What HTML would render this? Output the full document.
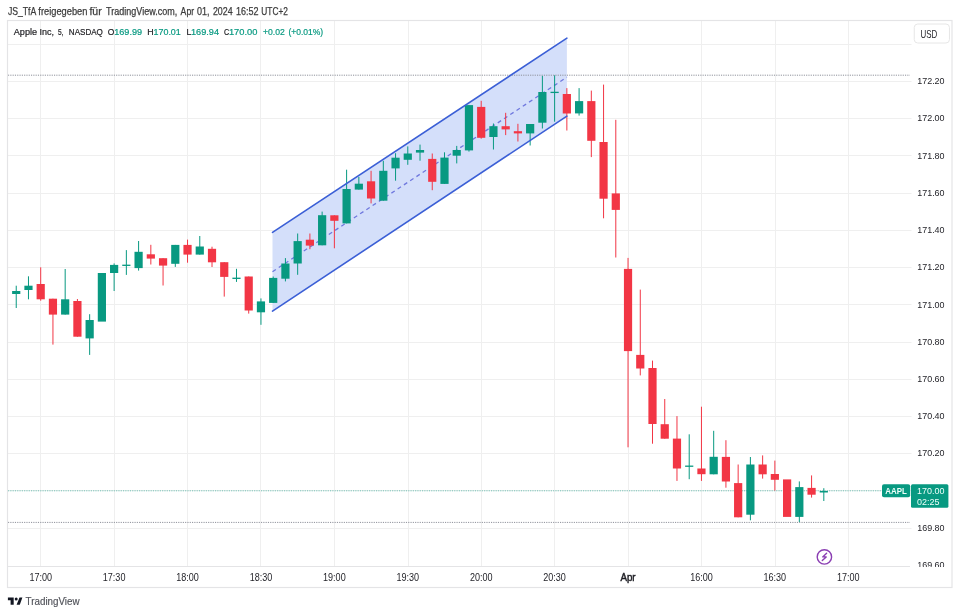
<!DOCTYPE html><html><head><meta charset="utf-8"><title>AAPL chart</title><style>
html,body{margin:0;padding:0;background:#fff;width:960px;height:615px;overflow:hidden}
svg{display:block;position:absolute;left:0;top:0;will-change:transform}
text{font-family:"Liberation Sans",sans-serif}
.ax{font-size:9.6px;fill:#1e1e24}
.b{font-weight:bold}
.lbl{font-size:9.2px;fill:#effffa}
.lg{font-size:9.1px;fill:#222226;stroke:#222226;stroke-width:0.2px}
.lg.gr{stroke:#089981}
.gr{fill:#089981}
.hd{font-size:10.2px;fill:#3c3c3c;stroke:#3c3c3c;stroke-width:0.25px}
.tv{font-size:10px;fill:#505259;stroke:#505259;stroke-width:0.15px}
</style></head><body><svg width="960" height="615" viewBox="0 0 960 615"><path d="M40.5 21V566M114.5 21V566M187.5 21V566M260.5 21V566M334.5 21V566M408.5 21V566M481.5 21V566M554.5 21V566M628.5 21V566M701.5 21V566M775.5 21V566M848.5 21V566M8 44.5H911.5M8 81.5H911.5M8 118.5H911.5M8 155.5H911.5M8 193.5H911.5M8 230.5H911.5M8 267.5H911.5M8 304.5H911.5M8 342.5H911.5M8 379.5H911.5M8 416.5H911.5M8 453.5H911.5M8 490.5H911.5M8 528.5H911.5" stroke="#efefef" stroke-width="1" fill="none"/>
<polygon points="272.5,232.3 566.9,38.2 566.9,116.1 272.5,311.1" fill="#d4dffa"/>
<path d="M272.5 271.70000000000005L566.9 77.15" stroke="#6f78de" stroke-width="1.3" stroke-dasharray="4 3.5" fill="none"/>
<path d="M8 75.2H910 M8 522.4H910" stroke="#8c8f99" stroke-width="1" stroke-dasharray="1.15 1.15" fill="none"/>
<path d="M8 490.8H882" stroke="#089981" stroke-width="1" stroke-dasharray="1.15 1.15" fill="none" opacity="0.55"/>
<rect x="15.73" y="285.7" width="1" height="22.3" fill="#089981"/><rect x="12.13" y="291" width="8.2" height="3" fill="#089981"/>
<rect x="27.97" y="276.3" width="1" height="23" fill="#089981"/><rect x="24.37" y="285.7" width="8.2" height="4.3" fill="#089981"/>
<rect x="40.2" y="267.3" width="1" height="33.4" fill="#f23645"/><rect x="36.6" y="284" width="8.2" height="15.3" fill="#f23645"/>
<rect x="52.44" y="298.7" width="1" height="45.9" fill="#f23645"/><rect x="48.84" y="298.7" width="8.2" height="15.9" fill="#f23645"/>
<rect x="64.67" y="269" width="1" height="45.6" fill="#089981"/><rect x="61.07" y="299.3" width="8.2" height="15.3" fill="#089981"/>
<rect x="76.91" y="299" width="1" height="37.7" fill="#f23645"/><rect x="73.31" y="301" width="8.2" height="35.7" fill="#f23645"/>
<rect x="89.15" y="314.2" width="1" height="40.7" fill="#089981"/><rect x="85.55" y="320" width="8.2" height="18.4" fill="#089981"/>
<rect x="97.78" y="273" width="8.2" height="48.6" fill="#089981"/>
<rect x="113.62" y="263.4" width="1" height="27.6" fill="#089981"/><rect x="110.02" y="264.9" width="8.2" height="8.1" fill="#089981"/>
<rect x="125.85" y="250.1" width="1" height="24.8" fill="#089981"/><rect x="122.25" y="264.65" width="8.2" height="1.3" fill="#089981"/>
<rect x="138.09" y="241" width="1" height="29.6" fill="#089981"/><rect x="134.49" y="251.8" width="8.2" height="16.3" fill="#089981"/>
<rect x="150.33" y="244.8" width="1" height="19.7" fill="#f23645"/><rect x="146.73" y="254.3" width="8.2" height="4.3" fill="#f23645"/>
<rect x="162.56" y="258.2" width="1" height="27.3" fill="#f23645"/><rect x="158.96" y="258.2" width="8.2" height="7.4" fill="#f23645"/>
<rect x="174.8" y="244.9" width="1" height="22" fill="#089981"/><rect x="171.2" y="244.9" width="8.2" height="18.9" fill="#089981"/>
<rect x="187.03" y="239.6" width="1" height="23.1" fill="#f23645"/><rect x="183.43" y="244.9" width="8.2" height="9.7" fill="#f23645"/>
<rect x="199.27" y="236" width="1" height="18.6" fill="#089981"/><rect x="195.67" y="246.5" width="8.2" height="8.1" fill="#089981"/>
<rect x="211.51" y="246.7" width="1" height="20.3" fill="#f23645"/><rect x="207.91" y="248.8" width="8.2" height="13.5" fill="#f23645"/>
<rect x="223.74" y="262.2" width="1" height="34.4" fill="#f23645"/><rect x="220.14" y="262.2" width="8.2" height="14.7" fill="#f23645"/>
<rect x="235.98" y="268.8" width="1" height="13.1" fill="#089981"/><rect x="232.38" y="277.65" width="8.2" height="1.3" fill="#089981"/>
<rect x="248.21" y="276.5" width="1" height="37.1" fill="#f23645"/><rect x="244.61" y="276.5" width="8.2" height="34" fill="#f23645"/>
<rect x="260.45" y="298.4" width="1" height="26.4" fill="#089981"/><rect x="256.85" y="301.4" width="8.2" height="10.9" fill="#089981"/>
<rect x="272.69" y="276.5" width="1" height="26.4" fill="#089981"/><rect x="269.09" y="277.9" width="8.2" height="25" fill="#089981"/>
<rect x="284.92" y="258.1" width="1" height="23.3" fill="#089981"/><rect x="281.32" y="263.5" width="8.2" height="15.2" fill="#089981"/>
<rect x="297.16" y="233.5" width="1" height="41.3" fill="#089981"/><rect x="293.56" y="241.1" width="8.2" height="22.4" fill="#089981"/>
<rect x="309.39" y="233.5" width="1" height="15.7" fill="#f23645"/><rect x="305.79" y="239.7" width="8.2" height="5.9" fill="#f23645"/>
<rect x="321.63" y="211.6" width="1" height="33.7" fill="#089981"/><rect x="318.03" y="215.2" width="8.2" height="30.1" fill="#089981"/>
<rect x="333.87" y="215.3" width="1" height="33" fill="#f23645"/><rect x="330.27" y="215.3" width="8.2" height="5.5" fill="#f23645"/>
<rect x="346.1" y="169.7" width="1" height="53.7" fill="#089981"/><rect x="342.5" y="189" width="8.2" height="34.4" fill="#089981"/>
<rect x="358.34" y="176.9" width="1" height="12.7" fill="#089981"/><rect x="354.74" y="183.7" width="8.2" height="5.9" fill="#089981"/>
<rect x="370.57" y="170.8" width="1" height="32.6" fill="#f23645"/><rect x="366.97" y="181.3" width="8.2" height="17.2" fill="#f23645"/>
<rect x="382.81" y="160.8" width="1" height="39.9" fill="#089981"/><rect x="379.21" y="170.8" width="8.2" height="29.9" fill="#089981"/>
<rect x="395.05" y="153.2" width="1" height="27.5" fill="#089981"/><rect x="391.45" y="157.7" width="8.2" height="10.7" fill="#089981"/>
<rect x="407.28" y="146.4" width="1" height="18.4" fill="#089981"/><rect x="403.68" y="153.5" width="8.2" height="6.3" fill="#089981"/>
<rect x="419.52" y="144.6" width="1" height="16.1" fill="#089981"/><rect x="415.92" y="150" width="8.2" height="2.6" fill="#089981"/>
<rect x="431.75" y="153.5" width="1" height="36.7" fill="#f23645"/><rect x="428.15" y="158.9" width="8.2" height="22.9" fill="#f23645"/>
<rect x="443.99" y="152.3" width="1" height="31.6" fill="#089981"/><rect x="440.39" y="157.6" width="8.2" height="26.3" fill="#089981"/>
<rect x="456.23" y="145.9" width="1" height="17.5" fill="#089981"/><rect x="452.63" y="150" width="8.2" height="5.7" fill="#089981"/>
<rect x="468.46" y="105.1" width="1" height="46.5" fill="#089981"/><rect x="464.86" y="105.1" width="8.2" height="45.3" fill="#089981"/>
<rect x="480.7" y="100.8" width="1" height="37.9" fill="#f23645"/><rect x="477.1" y="106.9" width="8.2" height="30.9" fill="#f23645"/>
<rect x="492.93" y="123.5" width="1" height="26" fill="#089981"/><rect x="489.33" y="126.2" width="8.2" height="10.8" fill="#089981"/>
<rect x="505.17" y="112.8" width="1" height="22.3" fill="#f23645"/><rect x="501.57" y="126.2" width="8.2" height="3.2" fill="#f23645"/>
<rect x="517.41" y="123.8" width="1" height="17.7" fill="#f23645"/><rect x="513.81" y="131.2" width="8.2" height="2.2" fill="#f23645"/>
<rect x="529.64" y="124" width="1" height="21.5" fill="#089981"/><rect x="526.04" y="124" width="8.2" height="9.4" fill="#089981"/>
<rect x="541.88" y="75.9" width="1" height="52.6" fill="#089981"/><rect x="538.28" y="92" width="8.2" height="30.7" fill="#089981"/>
<rect x="554.11" y="75.3" width="1" height="46.4" fill="#089981"/><rect x="550.51" y="91.75" width="8.2" height="1.3" fill="#089981"/>
<rect x="566.35" y="88.1" width="1" height="42.4" fill="#f23645"/><rect x="562.75" y="94" width="8.2" height="19.5" fill="#f23645"/>
<rect x="578.59" y="88.1" width="1" height="27.5" fill="#089981"/><rect x="574.99" y="101.1" width="8.2" height="12.3" fill="#089981"/>
<rect x="590.82" y="90.6" width="1" height="66.5" fill="#f23645"/><rect x="587.22" y="101.1" width="8.2" height="39.7" fill="#f23645"/>
<rect x="603.06" y="84.6" width="1" height="133.7" fill="#f23645"/><rect x="599.46" y="142" width="8.2" height="56.7" fill="#f23645"/>
<rect x="615.29" y="119.8" width="1" height="137.7" fill="#f23645"/><rect x="611.69" y="193.4" width="8.2" height="16.5" fill="#f23645"/>
<rect x="627.53" y="257.9" width="1" height="189.4" fill="#f23645"/><rect x="623.93" y="268.9" width="8.2" height="82.2" fill="#f23645"/>
<rect x="639.77" y="289.6" width="1" height="85.8" fill="#f23645"/><rect x="636.17" y="354.9" width="8.2" height="13.6" fill="#f23645"/>
<rect x="652" y="360.6" width="1" height="83.1" fill="#f23645"/><rect x="648.4" y="368" width="8.2" height="56" fill="#f23645"/>
<rect x="664.24" y="399" width="1" height="39.7" fill="#f23645"/><rect x="660.64" y="424.2" width="8.2" height="14.5" fill="#f23645"/>
<rect x="676.47" y="416.1" width="1" height="64.8" fill="#f23645"/><rect x="672.87" y="438.6" width="8.2" height="29.9" fill="#f23645"/>
<rect x="688.71" y="434.3" width="1" height="44.9" fill="#089981"/><rect x="685.11" y="465.55" width="8.2" height="1.3" fill="#089981"/>
<rect x="700.95" y="406.7" width="1" height="74.2" fill="#f23645"/><rect x="697.35" y="468.5" width="8.2" height="5.7" fill="#f23645"/>
<rect x="713.18" y="430.8" width="1" height="43.5" fill="#089981"/><rect x="709.58" y="456.8" width="8.2" height="17.5" fill="#089981"/>
<rect x="725.42" y="440.2" width="1" height="47.5" fill="#f23645"/><rect x="721.82" y="456.9" width="8.2" height="24.6" fill="#f23645"/>
<rect x="737.65" y="464.5" width="1" height="52.8" fill="#f23645"/><rect x="734.05" y="483.1" width="8.2" height="34.2" fill="#f23645"/>
<rect x="749.89" y="457" width="1" height="63.3" fill="#089981"/><rect x="746.29" y="464.5" width="8.2" height="50.2" fill="#089981"/>
<rect x="762.13" y="455.4" width="1" height="23.2" fill="#f23645"/><rect x="758.53" y="464.5" width="8.2" height="9.8" fill="#f23645"/>
<rect x="774.36" y="460.6" width="1" height="30" fill="#f23645"/><rect x="770.76" y="474" width="8.2" height="5.8" fill="#f23645"/>
<rect x="783" y="479.4" width="8.2" height="37.5" fill="#f23645"/>
<rect x="798.83" y="481.4" width="1" height="40.7" fill="#089981"/><rect x="795.23" y="487.1" width="8.2" height="29.8" fill="#089981"/>
<rect x="811.07" y="475.4" width="1" height="22.2" fill="#f23645"/><rect x="807.47" y="487.9" width="8.2" height="6.8" fill="#f23645"/>
<rect x="823.31" y="488.2" width="1" height="12.8" fill="#089981"/><rect x="819.71" y="491" width="8.2" height="1.5" fill="#089981"/>
<path d="M272.5 232.3L566.9 38.2 M272.5 311.1L566.9 116.1" stroke="#3b5fd6" stroke-width="1.6" stroke-linecap="round" fill="none"/>
<text x="917.2" y="84.18" class="ax" textLength="27.4" lengthAdjust="spacingAndGlyphs">172.20</text>
<text x="917.2" y="121.4" class="ax" textLength="27.4" lengthAdjust="spacingAndGlyphs">172.00</text>
<text x="917.2" y="158.62" class="ax" textLength="27.4" lengthAdjust="spacingAndGlyphs">171.80</text>
<text x="917.2" y="195.84" class="ax" textLength="27.4" lengthAdjust="spacingAndGlyphs">171.60</text>
<text x="917.2" y="233.06" class="ax" textLength="27.4" lengthAdjust="spacingAndGlyphs">171.40</text>
<text x="917.2" y="270.28" class="ax" textLength="27.4" lengthAdjust="spacingAndGlyphs">171.20</text>
<text x="917.2" y="307.5" class="ax" textLength="27.4" lengthAdjust="spacingAndGlyphs">171.00</text>
<text x="917.2" y="344.72" class="ax" textLength="27.4" lengthAdjust="spacingAndGlyphs">170.80</text>
<text x="917.2" y="381.94" class="ax" textLength="27.4" lengthAdjust="spacingAndGlyphs">170.60</text>
<text x="917.2" y="419.16" class="ax" textLength="27.4" lengthAdjust="spacingAndGlyphs">170.40</text>
<text x="917.2" y="456.38" class="ax" textLength="27.4" lengthAdjust="spacingAndGlyphs">170.20</text>
<text x="917.2" y="530.82" class="ax" textLength="27.4" lengthAdjust="spacingAndGlyphs">169.80</text>
<text x="917.2" y="568.04" class="ax" textLength="27.4" lengthAdjust="spacingAndGlyphs">169.60</text>
<path d="M8 566.5H910" stroke="#e4e4e6" stroke-width="1" fill="none"/>
<text x="40.7" y="580.5" class="ax" text-anchor="middle" textLength="22.6" lengthAdjust="spacingAndGlyphs" style="font-size:10.2px">17:00</text>
<text x="114.12" y="580.5" class="ax" text-anchor="middle" textLength="22.6" lengthAdjust="spacingAndGlyphs" style="font-size:10.2px">17:30</text>
<text x="187.53" y="580.5" class="ax" text-anchor="middle" textLength="22.6" lengthAdjust="spacingAndGlyphs" style="font-size:10.2px">18:00</text>
<text x="260.95" y="580.5" class="ax" text-anchor="middle" textLength="22.6" lengthAdjust="spacingAndGlyphs" style="font-size:10.2px">18:30</text>
<text x="334.37" y="580.5" class="ax" text-anchor="middle" textLength="22.6" lengthAdjust="spacingAndGlyphs" style="font-size:10.2px">19:00</text>
<text x="407.78" y="580.5" class="ax" text-anchor="middle" textLength="22.6" lengthAdjust="spacingAndGlyphs" style="font-size:10.2px">19:30</text>
<text x="481.2" y="580.5" class="ax" text-anchor="middle" textLength="22.6" lengthAdjust="spacingAndGlyphs" style="font-size:10.2px">20:00</text>
<text x="554.61" y="580.5" class="ax" text-anchor="middle" textLength="22.6" lengthAdjust="spacingAndGlyphs" style="font-size:10.2px">20:30</text>
<text x="628.03" y="580.5" class="ax" text-anchor="middle" textLength="15.2" lengthAdjust="spacingAndGlyphs" style="font-size:10.2px;stroke:#1e1e24;stroke-width:0.45px">Apr</text>
<text x="701.45" y="580.5" class="ax" text-anchor="middle" textLength="22.6" lengthAdjust="spacingAndGlyphs" style="font-size:10.2px">16:00</text>
<text x="774.86" y="580.5" class="ax" text-anchor="middle" textLength="22.6" lengthAdjust="spacingAndGlyphs" style="font-size:10.2px">16:30</text>
<text x="848.28" y="580.5" class="ax" text-anchor="middle" textLength="22.6" lengthAdjust="spacingAndGlyphs" style="font-size:10.2px">17:00</text>
<rect x="911" y="567" width="40" height="20" fill="#fff"/>
<rect x="882" y="484.3" width="28.2" height="13" rx="2" fill="#089981"/>
<text x="885.3" y="494.4" class="lbl" textLength="21.6" lengthAdjust="spacingAndGlyphs" style="font-weight:600">AAPL</text>
<rect x="911" y="484.3" width="37.4" height="23.4" rx="1.5" fill="#089981"/>
<text x="917" y="494.4" class="lbl" textLength="27.4" lengthAdjust="spacingAndGlyphs">170.00</text>
<text x="917" y="505" class="lbl" textLength="22.4" lengthAdjust="spacingAndGlyphs">02:25</text>
<rect x="914.25" y="24" width="35.2" height="19" rx="3.5" fill="#fff" stroke="#e6e6e6"/>
<text x="920.4" y="37.8" class="ax" textLength="16.8" lengthAdjust="spacingAndGlyphs" style="font-size:10.6px">USD</text>
<circle cx="824.4" cy="556.9" r="7.2" fill="none" stroke="#8b3fb3" stroke-width="1.4"/>
<path d="M826.6 553.3L822.7 556.9H826.2L822.3 560.5" fill="none" stroke="#8b3fb3" stroke-width="1.4" stroke-linejoin="round" stroke-linecap="round"/>
<rect x="7.5" y="20.5" width="944.5" height="567" fill="none" stroke="#e4e4e6" stroke-width="1.2"/>
<text x="13.8" y="34.9" class="lg" textLength="23.3" lengthAdjust="spacingAndGlyphs">Apple</text>
<text x="39.6" y="34.9" class="lg" textLength="14.5" lengthAdjust="spacingAndGlyphs">Inc,</text>
<text x="57.9" y="34.9" class="lg" textLength="5.5" lengthAdjust="spacingAndGlyphs">5,</text>
<text x="68.8" y="34.9" class="lg" textLength="34.1" lengthAdjust="spacingAndGlyphs">NASDAQ</text>
<text x="107.7" y="34.9" class="lg" textLength="6.6" lengthAdjust="spacingAndGlyphs">O</text>
<text x="114.2" y="34.9" class="lg gr" textLength="27.9" lengthAdjust="spacingAndGlyphs">169.99</text>
<text x="147.2" y="34.9" class="lg" textLength="6.4" lengthAdjust="spacingAndGlyphs">H</text>
<text x="153.5" y="34.9" class="lg gr" textLength="27.3" lengthAdjust="spacingAndGlyphs">170.01</text>
<text x="186.4" y="34.9" class="lg" textLength="4.8" lengthAdjust="spacingAndGlyphs">L</text>
<text x="191" y="34.9" class="lg gr" textLength="28.1" lengthAdjust="spacingAndGlyphs">169.94</text>
<text x="223.9" y="34.9" class="lg" textLength="5.2" lengthAdjust="spacingAndGlyphs">C</text>
<text x="228.9" y="34.9" class="lg gr" textLength="28.5" lengthAdjust="spacingAndGlyphs">170.00</text>
<text x="263" y="34.9" class="lg gr" textLength="21.8" lengthAdjust="spacingAndGlyphs">+0.02</text>
<text x="288.4" y="34.9" class="lg gr" textLength="34.8" lengthAdjust="spacingAndGlyphs">(+0.01%)</text>
<text x="7.9" y="14.7" class="hd" textLength="28.4" lengthAdjust="spacingAndGlyphs">JS_TfA</text>
<text x="38.35" y="14.7" class="hd" textLength="49.05" lengthAdjust="spacingAndGlyphs">freigegeben</text>
<text x="89.4" y="14.7" class="hd" textLength="12.25" lengthAdjust="spacingAndGlyphs">für</text>
<text x="106.1" y="14.7" class="hd" textLength="71.1" lengthAdjust="spacingAndGlyphs">TradingView.com,</text>
<text x="180.6" y="14.7" class="hd" textLength="13.5" lengthAdjust="spacingAndGlyphs">Apr</text>
<text x="197.1" y="14.7" class="hd" textLength="12.5" lengthAdjust="spacingAndGlyphs">01,</text>
<text x="212.9" y="14.7" class="hd" textLength="19.7" lengthAdjust="spacingAndGlyphs">2024</text>
<text x="235.9" y="14.7" class="hd" textLength="22.5" lengthAdjust="spacingAndGlyphs">16:52</text>
<text x="261.3" y="14.7" class="hd" textLength="26.6" lengthAdjust="spacingAndGlyphs">UTC+2</text>
<path d="M7.9 597.4H13.7V604.8H10.6V600.2H7.9Z M19.5 597.4H22.4L19.8 604.8H16.6Z" fill="#131722"/>
<circle cx="16.2" cy="599.1" r="1.5" fill="#131722"/>
<text x="25.6" y="604.9" class="tv" textLength="54" lengthAdjust="spacingAndGlyphs">TradingView</text></svg></body></html>
